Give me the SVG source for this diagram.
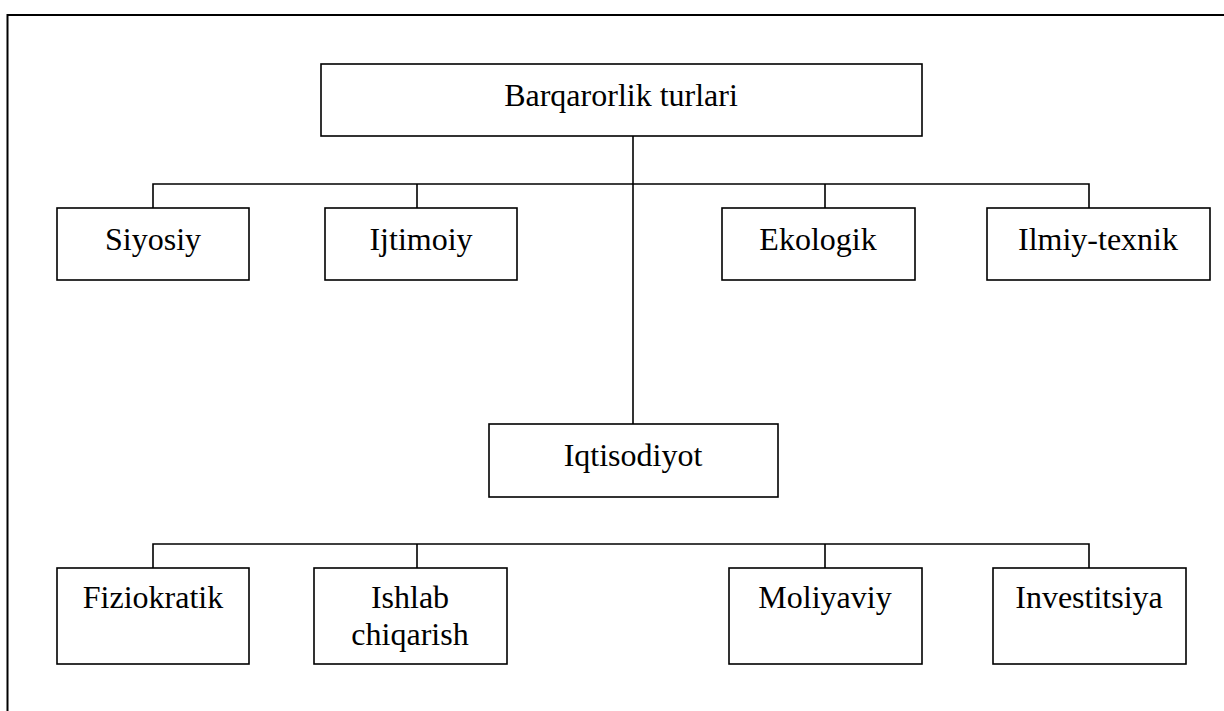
<svg xmlns="http://www.w3.org/2000/svg" width="1224" height="711" viewBox="0 0 1224 711">
<style>
.box{fill:#fff;stroke:#000;stroke-width:1.6}
.ln{fill:none;stroke:#000;stroke-width:1.6}
.frame{fill:none;stroke:#000;stroke-width:2}
text{font-family:"Liberation Serif","Times New Roman",serif;font-size:32px;fill:#000;text-anchor:middle}
</style>
<rect width="1224" height="711" fill="#fff"/>
<path class="frame" d="M7.5,711 V15 H1224"/>
<g id="connectors">
<path class="ln" d="M633,136 V424"/>
<path class="ln" d="M153,208 V184 H1089 V208 M417,184 V208 M825,184 V208"/>
<path class="ln" d="M153,568 V544 H1089 V568 M417,544 V568 M825,544 V568"/>
</g>
<g id="barqarorlik">
<rect class="box" x="321" y="64" width="601" height="72"/>
<text x="621" y="106">Barqarorlik turlari</text>
</g>
<g id="siyosiy">
<rect class="box" x="57" y="208" width="192" height="72"/>
<text x="153" y="250">Siyosiy</text>
</g>
<g id="ijtimoiy">
<rect class="box" x="325" y="208" width="192" height="72"/>
<text x="421" y="250">Ijtimoiy</text>
</g>
<g id="ekologik">
<rect class="box" x="722" y="208" width="193" height="72"/>
<text x="818" y="250">Ekologik</text>
</g>
<g id="ilmiy">
<rect class="box" x="987" y="208" width="223" height="72"/>
<text x="1098" y="250">Ilmiy-texnik</text>
</g>
<g id="iqtisodiyot">
<rect class="box" x="489" y="424" width="289" height="73"/>
<text x="633" y="466">Iqtisodiyot</text>
</g>
<g id="fiziokratik">
<rect class="box" x="57" y="568" width="192" height="96"/>
<text x="153" y="608">Fiziokratik</text>
</g>
<g id="ishlab">
<rect class="box" x="314" y="568" width="193" height="96"/>
<text x="410" y="608">Ishlab</text>
<text x="410" y="645">chiqarish</text>
</g>
<g id="moliyaviy">
<rect class="box" x="729" y="568" width="193" height="96"/>
<text x="825" y="608">Moliyaviy</text>
</g>
<g id="investitsiya">
<rect class="box" x="993" y="568" width="193" height="96"/>
<text x="1089" y="608">Investitsiya</text>
</g>
</svg>
